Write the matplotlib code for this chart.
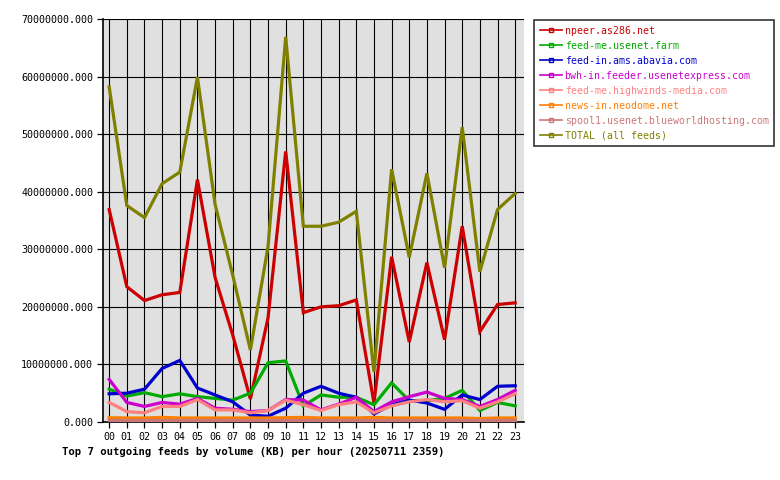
import matplotlib
matplotlib.use("Agg")
import matplotlib.pyplot as plt
from matplotlib.lines import Line2D
from matplotlib.ticker import FuncFormatter, MultipleLocator

hours = ["00", "01", "02", "03", "04", "05", "06", "07", "08", "09", "10", "11",
         "12", "13", "14", "15", "16", "17", "18", "19", "20", "21", "22", "23"]

npeer = [36.9, 23.5, 21.1, 22.1, 22.5, 42.1, 25.1, 15.1, 4.0, 18.1, 47.0, 19.0,
         20.0, 20.2, 21.2, 3.3, 28.7, 13.9, 27.7, 14.3, 34.0, 15.7, 20.4, 20.7]
feedme_farm = [5.7, 4.5, 5.1, 4.4, 4.9, 4.4, 4.1, 3.8, 5.0, 10.3, 10.6, 2.8,
               4.7, 4.3, 4.3, 3.0, 6.8, 3.7, 3.7, 4.1, 5.5, 2.0, 3.4, 2.8]
abavia = [4.9, 5.0, 5.7, 9.3, 10.7, 5.9, 4.7, 3.5, 1.2, 1.0, 2.4, 5.0,
          6.2, 5.0, 4.3, 1.4, 3.0, 3.8, 3.3, 2.2, 4.7, 3.9, 6.2, 6.3]
usenetexpress = [7.4, 3.4, 2.7, 3.4, 3.1, 4.1, 2.4, 2.2, 1.8, 2.0, 3.9, 3.8,
                 2.1, 3.1, 4.3, 1.8, 3.5, 4.4, 5.2, 4.1, 3.9, 2.7, 3.9, 5.5]
highwinds = [3.4, 1.8, 1.6, 2.7, 2.7, 3.9, 2.1, 2.1, 1.6, 2.0, 3.8, 3.0,
             2.0, 3.0, 3.5, 1.6, 2.8, 3.5, 3.9, 3.5, 3.7, 2.4, 3.5, 4.9]
neodome = [0.75, 0.7, 0.7, 0.8, 0.7, 0.7, 0.7, 0.7, 0.7, 0.7, 0.75, 0.8,
           0.7, 0.7, 0.7, 0.8, 0.7, 0.7, 0.7, 0.7, 0.7, 0.6, 0.7, 0.7]
blueworld = [0.3, 0.3, 0.3, 0.3, 0.3, 0.3, 0.3, 0.3, 0.3, 0.3, 0.3, 0.3,
             0.3, 0.3, 0.3, 0.3, 0.3, 0.3, 0.3, 0.3, 0.3, 0.3, 0.3, 0.3]
total = [58.2, 37.6, 35.5, 41.4, 43.4, 59.9, 37.8, 25.5, 12.5, 30.5, 66.9, 34.0,
         34.0, 34.7, 36.6, 8.7, 43.9, 28.6, 43.2, 26.8, 51.2, 26.1, 36.9, 39.7]

labels = ["npeer.as286.net", "feed-me.usenet.farm", "feed-in.ams.abavia.com",
          "bwh-in.feeder.usenetexpress.com", "feed-me.highwinds-media.com",
          "news-in.neodome.net", "spool1.usenet.blueworldhosting.com",
          "TOTAL (all feeds)"]
series = [npeer, feedme_farm, abavia, usenetexpress, highwinds, neodome, blueworld, total]
colors = ["#CC0000", "#00AA00", "#0000CC", "#CC00CC", "#FF8080", "#FF8000",
          "#CC7777", "#808000"]

title = "Top 7 outgoing feeds by volume (KB) per hour (20250711 2359)"

mono = "DejaVu Sans Mono"
fig = plt.figure(figsize=(7.8, 4.8), dpi=100, facecolor="white")
ax = fig.add_axes([103 / 780, 58 / 480, 421 / 780, 403 / 480])
ax.set_facecolor("#E0E0E0")

x = list(range(len(hours)))
for vals, col in zip(series, colors):
    ax.plot(x, [v * 1e6 for v in vals], color=col, lw=2.3, solid_joinstyle="miter", zorder=3)

ax.set_xlim(-0.35, 23.5)
ax.set_ylim(0, 70e6)
ax.yaxis.set_major_locator(MultipleLocator(10e6))
ax.yaxis.set_major_formatter(FuncFormatter(lambda v, p: "%.3f" % v))
ax.set_xticks(x)
ax.set_xticklabels(hours)
ax.grid(True, color="black", lw=0.8, zorder=1)
ax.set_axisbelow(True)
for s in ["top", "right"]:
    ax.spines[s].set_visible(False)
for s in ["left", "bottom"]:
    ax.spines[s].set_linewidth(1.2)
ax.tick_params(axis="both", direction="out", length=4, width=0.9, colors="black",
               labelsize=7.2, pad=3)
for lab in ax.get_xticklabels() + ax.get_yticklabels():
    lab.set_family(mono)

fig.text(62 / 780, 1 - 452 / 480, title, family=mono, fontsize=7.6,
         fontweight="bold", ha="left", va="center")

handles = [Line2D([0], [0], color=c, lw=1.2, marker="s", markersize=2.5,
                  markerfacecolor="none", markeredgecolor=c) for c in colors]
leg = fig.legend(handles, labels, loc="upper left",
                 bbox_to_anchor=(534 / 780, 1 - 20 / 480),
                 prop={"family": mono, "size": 7.1}, labelcolor="linecolor",
                 frameon=True, fancybox=False, edgecolor="black",
                 handlelength=2.2, handletextpad=0.3, labelspacing=0.5,
                 borderpad=0.6, borderaxespad=0)
leg.get_frame().set_linewidth(1.2)

fig.savefig("out.png", dpi=100, facecolor="white")
